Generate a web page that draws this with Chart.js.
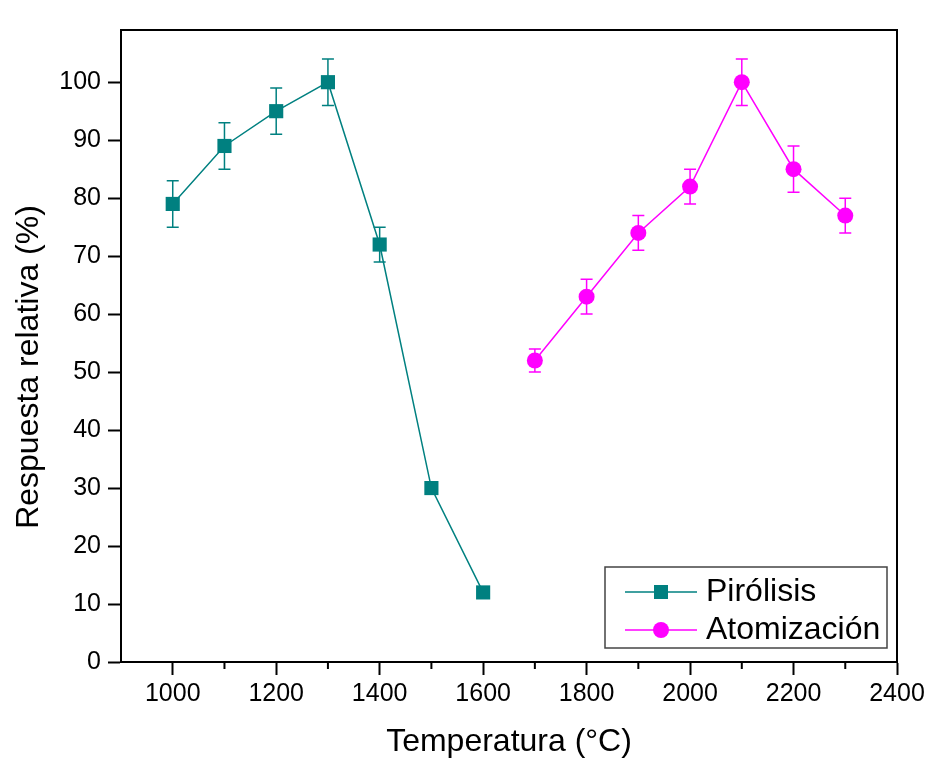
<!DOCTYPE html>
<html lang="es">
   <head>
      <meta charset="UTF-8" />
      <title>Respuesta relativa vs Temperatura</title>
      <style>
         html, body { margin: 0; padding: 0; background: #fff; }
         #grafico_box { width: 930px; height: 758px; }
      </style>
   </head>
   <body>
      <div id="grafico_box">
         <canvas id="chart_temp"></canvas>
      </div>
   </body>
</html>

<script src="https://cdn.jsdelivr.net/npm/chart.js"></script>
<script>
   // datos
   const temp_pirolisis = [1000, 1100, 1200, 1300, 1400, 1500, 1600];
   const resp_pirolisis = [79, 89, 95, 100, 72, 30, 12];
   const err_pirolisis = [4, 4, 4, 4, 3, 1, 0];

   const temp_atomizacion = [1700, 1800, 1900, 2000, 2100, 2200, 2300];
   const resp_atomizacion = [52, 63, 74, 82, 100, 85, 77];
   const err_atomizacion = [2, 3, 3, 3, 4, 4, 3];

   const x_minor_ticks = [1100, 1300, 1500, 1700, 1900, 2100, 2300];

   const fuente = "'Liberation Sans', Arial, sans-serif";
   const teal = "#008080";
   const magenta = "#FF00FF";

   function puntos(xs, ys) {
      return xs.map((x, i) => ({ x: x, y: ys[i] }));
   }

   // barras de error, debajo de los marcadores
   const plugin_error = {
      id: "barras_error",
      beforeDatasetsDraw(chart) {
         const ctx = chart.ctx;
         const sx = chart.scales.x;
         const sy = chart.scales.y;
         const grupos = [
            [temp_pirolisis, resp_pirolisis, err_pirolisis, teal],
            [temp_atomizacion, resp_atomizacion, err_atomizacion, magenta],
         ];
         ctx.save();
         ctx.lineWidth = 1.5;
         grupos.forEach(([xs, ys, es, color]) => {
            ctx.strokeStyle = color;
            xs.forEach((t, i) => {
               if (!es[i]) return;
               const px = sx.getPixelForValue(t);
               const y1 = sy.getPixelForValue(ys[i] + es[i]);
               const y2 = sy.getPixelForValue(ys[i] - es[i]);
               ctx.beginPath();
               ctx.moveTo(px, y1);
               ctx.lineTo(px, y2);
               ctx.moveTo(px - 6, y1);
               ctx.lineTo(px + 6, y1);
               ctx.moveTo(px - 6, y2);
               ctx.lineTo(px + 6, y2);
               ctx.stroke();
            });
         });
         ctx.restore();
      },
   };

   // marco, ticks menores, titulo del eje y y leyenda
   const plugin_extras = {
      id: "extras",
      afterDraw(chart) {
         const ctx = chart.ctx;
         const a = chart.chartArea;
         const sx = chart.scales.x;
         ctx.save();

         ctx.strokeStyle = "#000";
         ctx.lineWidth = 2;
         ctx.strokeRect(a.left, a.top, a.right - a.left, a.bottom - a.top);

         ctx.beginPath();
         x_minor_ticks.forEach((t) => {
            const px = sx.getPixelForValue(t);
            ctx.moveTo(px, a.bottom);
            ctx.lineTo(px, a.bottom + 7);
         });
         ctx.stroke();

         // titulo eje y
         ctx.save();
         ctx.translate(38, 367);
         ctx.rotate(-Math.PI / 2);
         ctx.fillStyle = "#000";
         ctx.font = "32px " + fuente;
         ctx.textAlign = "center";
         ctx.textBaseline = "alphabetic";
         ctx.fillText("Respuesta relativa (%)", 0, 0);
         ctx.restore();

         // leyenda
         ctx.fillStyle = "#fff";
         ctx.fillRect(605, 567, 282, 81);
         ctx.strokeStyle = "#444";
         ctx.lineWidth = 1.5;
         ctx.strokeRect(605, 567, 282, 81);

         const filas = [
            ["Pirólisis", teal, "rect", 592],
            ["Atomización", magenta, "circle", 630],
         ];
         filas.forEach(([txt, color, forma, y]) => {
            ctx.strokeStyle = color;
            ctx.lineWidth = 1.5;
            ctx.beginPath();
            ctx.moveTo(625, y);
            ctx.lineTo(697, y);
            ctx.stroke();
            ctx.fillStyle = color;
            if (forma === "rect") {
               ctx.fillRect(654, y - 7, 14, 14);
            } else {
               ctx.beginPath();
               ctx.arc(661, y, 8, 0, Math.PI * 2);
               ctx.fill();
            }
            ctx.fillStyle = "#000";
            ctx.font = "32px " + fuente;
            ctx.textAlign = "left";
            ctx.textBaseline = "middle";
            ctx.fillText(txt, 706, y);
         });

         ctx.restore();
      },
   };

   const data_temp = {
      datasets: [
         {
            label: "Pirólisis",
            data: puntos(temp_pirolisis, resp_pirolisis),
            borderColor: teal,
            backgroundColor: teal,
            borderWidth: 1.5,
            showLine: true,
            pointStyle: "rect",
            pointRadius: 10,
            pointBorderWidth: 0,
            pointHoverRadius: 10,
         },
         {
            label: "Atomización",
            data: puntos(temp_atomizacion, resp_atomizacion),
            borderColor: magenta,
            backgroundColor: magenta,
            borderWidth: 1.5,
            showLine: true,
            pointStyle: "circle",
            pointRadius: 8,
            pointBorderWidth: 0,
            pointHoverRadius: 8,
         },
      ],
   };

   const config_temp = {
      type: "scatter",
      data: data_temp,
      plugins: [plugin_error, plugin_extras],
      options: {
         responsive: true,
         maintainAspectRatio: false,
         animation: false,
         layout: { padding: { top: 30, right: 33, left: 0, bottom: 0 } },
         plugins: {
            legend: { display: false },
            tooltip: { enabled: false },
         },
         scales: {
            x: {
               type: "linear",
               min: 900,
               max: 2400,
               afterFit: (s) => { s.height = 96; },
               grid: {
                  display: true,
                  drawOnChartArea: false,
                  drawTicks: true,
                  tickLength: 13,
                  tickColor: "#000",
                  tickWidth: 2,
               },
               border: { display: true, color: "#000", width: 2 },
               ticks: {
                  stepSize: 200,
                  includeBounds: false,
                  autoSkip: false,
                  maxRotation: 0,
                  padding: 4,
                  color: "#000",
                  font: { family: fuente, size: 25 },
                  callback: (v) => String(v),
               },
               title: {
                  display: true,
                  text: "Temperatura (°C)",
                  color: "#000",
                  font: { family: fuente, size: 32, lineHeight: 1 },
                  padding: 0,
               },
            },
            y: {
               type: "linear",
               min: 0,
               max: 109,
               afterFit: (s) => { s.width = 121; },
               grid: {
                  display: true,
                  drawOnChartArea: false,
                  drawTicks: true,
                  tickLength: 13,
                  tickColor: "#000",
                  tickWidth: 2,
               },
               border: { display: true, color: "#000", width: 2 },
               ticks: {
                  stepSize: 10,
                  includeBounds: false,
                  autoSkip: false,
                  padding: 7,
                  color: "#000",
                  font: { family: fuente, size: 25 },
                  callback: (v) => String(v),
               },
            },
         },
      },
   };

   const grafico_temp = new Chart(
      document.getElementById("chart_temp"),
      config_temp
   );
</script>
